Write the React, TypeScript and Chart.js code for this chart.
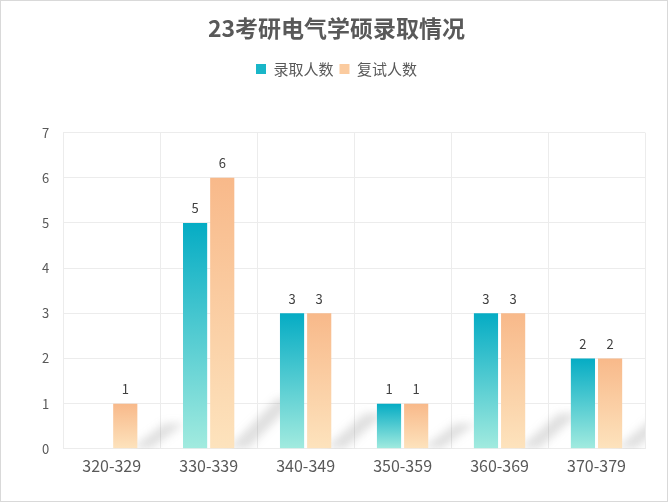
import React, { useEffect, useRef } from "react";
import { Chart, registerables } from "chart.js";

Chart.register(...registerables);

const categories = ["320-329", "330-339", "340-349", "350-359", "360-369", "370-379"];
const admitted = [0, 5, 3, 1, 3, 2];
const interviewed = [1, 6, 3, 1, 3, 2];
const seriesNames = ["录取人数", "复试人数"];
const yTicks = [0, 1, 2, 3, 4, 5, 6, 7];

const FONT = "'Noto Sans CJK SC', 'Noto Sans', sans-serif";
const TEXT = "#595959";

const palettes = [
  { top: "#05acc4", bottom: "#a2ebdf" },
  { top: "#f8b98a", bottom: "#fde3bd" },
];

function barGradient(ctx: any, idx: number) {
  const chart = ctx.chart;
  const pal = palettes[idx];
  const y = chart.scales && chart.scales.y;
  if (!chart.chartArea || !y || ctx.type !== "data") return pal.top;
  const v = ctx.raw as number;
  const top = y.getPixelForValue(v);
  const bot = y.getPixelForValue(0);
  if (!isFinite(top) || !isFinite(bot) || top === bot) return pal.top;
  const g = chart.ctx.createLinearGradient(0, top, 0, bot);
  g.addColorStop(0, pal.top);
  g.addColorStop(1, pal.bottom);
  return g;
}

const legendGapPlugin = {
  id: "legendGap",
  beforeLayout(chart: any) {
    const lg = chart.legend;
    if (lg && !lg.__patched) {
      const fit = lg.fit;
      lg.fit = function () {
        fit.call(this);
        this.height += 46;
      };
      lg.__patched = true;
    }
  },
};

const shadowPlugin = {
  id: "barShadow",
  beforeDatasetsDraw(chart: any) {
    const ctx = chart.ctx;
    const meta = chart.getDatasetMeta(1);
    const area = chart.chartArea;
    ctx.save();
    ctx.beginPath();
    ctx.rect(area.left, area.top, area.right - area.left, area.bottom - area.top);
    ctx.clip();
    ctx.filter = "blur(4px)";
    meta.data.forEach((bar: any) => {
      const h = bar.base - bar.y;
      if (h <= 0) return;
      const xr = bar.x + bar.width / 2;
      const dx = 24 + h * 0.07;
      const dy = 20 + h * 0.11;
      ctx.fillStyle = "rgba(110,110,110,0.22)";
      ctx.beginPath();
      ctx.moveTo(xr - 6, bar.base);
      ctx.lineTo(xr + 14, bar.base);
      ctx.lineTo(xr + dx + 20, bar.base - dy);
      ctx.lineTo(xr + dx, bar.base - dy);
      ctx.closePath();
      ctx.fill();
    });
    ctx.restore();
  },
};

const labelPlugin = {
  id: "valueLabels",
  afterDatasetsDraw(chart: any) {
    const ctx = chart.ctx;
    ctx.save();
    ctx.font = `13px ${FONT}`;
    ctx.fillStyle = "#404040";
    ctx.textAlign = "center";
    ctx.textBaseline = "bottom";
    chart.data.datasets.forEach((ds: any, di: number) => {
      const meta = chart.getDatasetMeta(di);
      meta.data.forEach((bar: any, i: number) => {
        const v = ds.data[i];
        if (!v) return;
        ctx.fillText(String(v), bar.x, bar.y - 8);
      });
    });
    ctx.restore();
  },
};

export default function App() {
  const ref = useRef<HTMLCanvasElement>(null);
  useEffect(() => {
    document.body.style.margin = "0";
    const chart = new Chart(ref.current!, {
      type: "bar",
      data: {
        labels: categories,
        datasets: [
          {
            label: seriesNames[0],
            data: admitted,
            backgroundColor: (c: any) => barGradient(c, 0),
            categoryPercentage: 0.56,
            barPercentage: 0.89,
          },
          {
            label: seriesNames[1],
            data: interviewed,
            backgroundColor: (c: any) => barGradient(c, 1),
            categoryPercentage: 0.56,
            barPercentage: 0.89,
          },
        ],
      },
      options: {
        animation: false,
        responsive: false,
        layout: { padding: { left: 27, right: 22, top: 13, bottom: 17 } },
        plugins: {
          title: {
            display: true,
            text: "23考研电气学硕录取情况",
            color: TEXT,
            font: { family: FONT, size: 23, weight: "bold" },
            padding: { top: 0, bottom: 14 },
          },
          legend: {
            display: true,
            labels: {
              color: TEXT,
              font: { family: FONT, size: 15 },
              boxWidth: 10,
              boxHeight: 10,
              padding: 6,
              generateLabels: () =>
                seriesNames.map((n, i) => ({
                  text: n,
                  fillStyle: i === 0 ? "#19b6c8" : "#fbcb9f",
                  strokeStyle: "transparent",
                  lineWidth: 0,
                  datasetIndex: i,
                  fontColor: TEXT,
                })),
            },
          },
          tooltip: { enabled: false },
        },
        scales: {
          x: {
            grid: { color: "#ececec", offset: true, drawTicks: false },
            border: { color: "#ececec" },
            ticks: { color: TEXT, font: { family: FONT, size: 16 }, padding: 8 },
          },
          y: {
            min: 0,
            max: 7,
            afterBuildTicks: (s: any) => {
              s.ticks = yTicks.map((v) => ({ value: v }));
            },
            grid: { color: "#ececec", drawTicks: false },
            border: { display: false },
            ticks: { color: TEXT, font: { family: FONT, size: 13 }, padding: 14 },
          },
        },
      } as any,
      plugins: [legendGapPlugin, shadowPlugin, labelPlugin],
    });
    return () => chart.destroy();
  }, []);
  return (
    <div style={{ width: 668, height: 502, boxSizing: "border-box", border: "1px solid #d9d9d9", background: "#fff" }}>
      <canvas ref={ref} width={666} height={500} style={{ display: "block" }} />
    </div>
  );
}
